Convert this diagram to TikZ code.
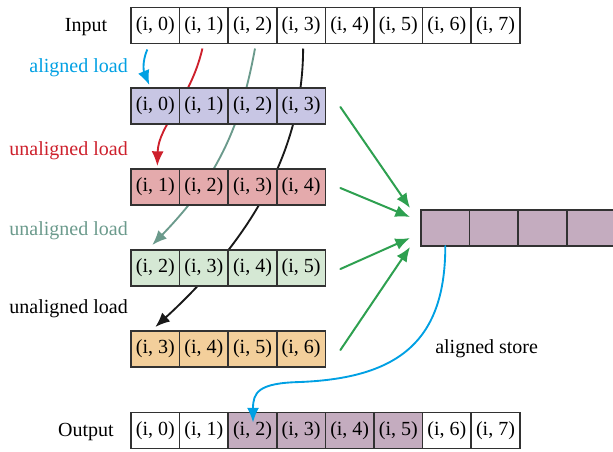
\documentclass[tikz,border=0pt]{standalone}
\usepackage{fontspec}
\setmainfont{Liberation Serif}
\usetikzlibrary{arrows.meta,backgrounds}
\definecolor{loadblue}{RGB}{0,160,227}
\definecolor{loadred}{RGB}{205,32,44}
\definecolor{loadteal}{RGB}{107,154,140}
\definecolor{movegreen}{RGB}{46,160,80}
\definecolor{rowP}{RGB}{200,198,228}
\definecolor{rowR}{RGB}{228,170,172}
\definecolor{rowG}{RGB}{213,232,212}
\definecolor{rowO}{RGB}{243,207,155}
\definecolor{rowM}{RGB}{196,172,191}
\definecolor{edge}{RGB}{50,50,50}
\begin{document}
\begin{tikzpicture}[x=0.75pt,y=-0.75pt,>={Latex[length=11pt,width=9pt]},
	font=\rmfamily\fontsize{15}{18}\selectfont, line cap=round,
	cell/.style={draw=edge,line width=1.1pt,minimum width=36.45pt,minimum height=27pt,inner sep=0pt,outer sep=0pt},
	lbl/.style={inner sep=0pt},
	ld/.style={->,line width=1.4pt},
	mv/.style={->,line width=1.5pt,movegreen}]
	\def\w{48.6} \def\xa{155.3} % cell width, first centre
	\useasboundingbox (0,0) rectangle (613,451);
	\foreach \k in {0,...,7}
		\node[cell] (in\k) at ({\xa+\w*\k},25.5) {(i, \k)};
	\foreach \r/\y/\off/\col in {p/106/0/rowP, r/187/1/rowR, g/268/2/rowG, o/349/3/rowO}
		\foreach \k in {0,...,3}
			\node[cell,fill=\col] (\r\k) at ({\xa+\w*\k},\y) {(i, \the\numexpr\k+\off\relax)};
	\foreach \k/\col in {0/white,1/white,2/rowM,3/rowM,4/rowM,5/rowM,6/white,7/white}
		\node[cell,fill=\col] (out\k) at ({\xa+\w*\k},430.5) {(i, \k)};
	\foreach \k in {0,...,3}
		\node[cell,fill=rowM] (st\k) at ({445.3+\w*\k},228) {};
	\node[lbl,anchor=base] (lin) at (86,31) {Input};
	\node[lbl,anchor=base] (lout) at (86,436) {Output};
	\node[lbl,anchor=base east,text=loadblue] (lal) at (128,72) {aligned load};
	\node[lbl,anchor=base east,text=loadred] (lu1) at (128,155) {unaligned load};
	\node[lbl,anchor=base east,text=loadteal] (lu2) at (128,235) {unaligned load};
	\node[lbl,anchor=base east] (lu3) at (128,313) {unaligned load};
	\node[lbl,anchor=base west] (lst) at (435,353) {aligned store};
	\begin{pgfonlayer}{background}
		\draw[ld,loadblue] ([shift={(-8,6)}]in0.south) .. controls +(-6,14) and +(-5,-12) .. ([shift={(-6,-3)}]p0.north);
		\draw[ld,loadred] ([shift={(-1.5,5)}]in1.south) .. controls +(-12,52) and +(1,-41) .. ([shift={(2,-3)}]r0.north);
		\draw[ld,loadteal] ([shift={(2.5,5)}]in2.south) .. controls +(-15,82) and +(63,-65) .. ([shift={(-3,-5)}]g0.north);
		\draw[ld,black!90] ([shift={(2,5)}]in3.south) .. controls +(0,102) and +(95,-87) .. ([shift={(0,-4)}]o0.north);
	\end{pgfonlayer}
	\foreach \r/\dy in {p/-20,r/-11,g/10,o/19}
		\draw[mv] ([shift={(15,1)}]\r3.east) -- ([shift={(-11,\dy)}]st0.west);
	\coordinate (bend) at (300,382);
	\draw[ld,loadblue] (st0.south) .. controls +(0,94) and +(100,-4) .. (bend)
		.. controls +(-42,1) and +(0,-30) .. ([shift={(0.5,10)}]out2.north);
\end{tikzpicture}
\end{document}
